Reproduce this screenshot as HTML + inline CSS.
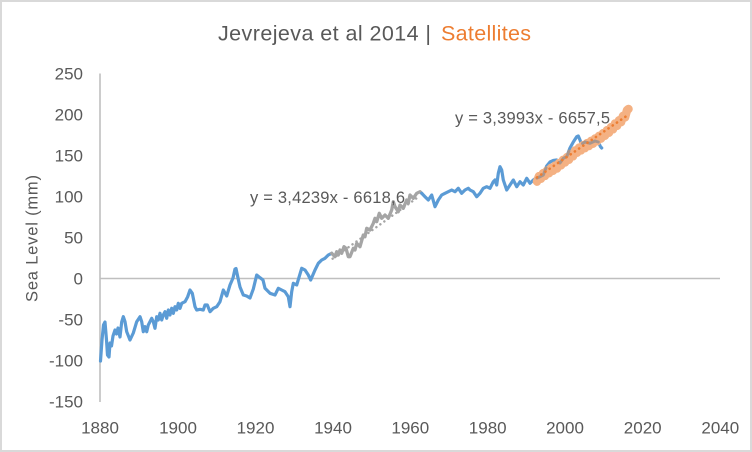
<!DOCTYPE html>
<html><head><meta charset="utf-8"><style>
html,body{margin:0;padding:0;background:#fff;}
svg{display:block;}
text{font-family:"Liberation Sans",Arial,sans-serif;fill:#595959;}
</style></head><body>
<svg width="752" height="452" viewBox="0 0 752 452" xmlns="http://www.w3.org/2000/svg">
<rect x="1" y="1" width="750" height="450" fill="#fff" stroke="#d9d9d9" stroke-width="2"/>
<!-- title -->
<text x="218" y="40.5" font-size="21.5" textLength="213" lengthAdjust="spacing">Jevrejeva et al 2014 |</text>
<text x="441" y="40.5" font-size="21.5" textLength="90" lengthAdjust="spacing" style="fill:#ed7d31">Satellites</text>
<!-- axis title -->
<text transform="translate(37.5,238.5) rotate(-90)" text-anchor="middle" font-size="16.5" textLength="127" lengthAdjust="spacing">Sea Level (mm)</text>
<!-- axes -->
<line x1="100" y1="73.5" x2="100" y2="402" stroke="#bfbfbf" stroke-width="1.6"/>
<line x1="100" y1="278.5" x2="720" y2="278.5" stroke="#bfbfbf" stroke-width="1.6"/>
<!-- y labels -->
<g font-size="17" text-anchor="end">
<text x="83" y="79.5">250</text>
<text x="83" y="120.5">200</text>
<text x="83" y="161.5">150</text>
<text x="83" y="202.5">100</text>
<text x="83" y="243.5">50</text>
<text x="83" y="284.5">0</text>
<text x="83" y="325.5">-50</text>
<text x="83" y="366.5">-100</text>
<text x="83" y="407.5">-150</text>
</g>
<!-- x labels -->
<g font-size="17" text-anchor="middle">
<text x="100" y="433.5">1880</text>
<text x="178" y="433.5">1900</text>
<text x="255.5" y="433.5">1920</text>
<text x="333" y="433.5">1940</text>
<text x="410.3" y="433.5">1960</text>
<text x="487.7" y="433.5">1980</text>
<text x="565" y="433.5">2000</text>
<text x="642.7" y="433.5">2020</text>
<text x="720.3" y="433.5">2040</text>
</g>
<!-- blue series part 1 -->
<path fill="none" stroke="#5b9bd5" stroke-width="3.2" stroke-linejoin="round" stroke-linecap="round" d="M100.5,361 L102,340 L103.5,325 L105,322 L106.5,340 L107.5,355 L109,357 L110,343 L111.5,346 L113,336 L115,330 L116.5,334 L118,328 L120,337 L121.7,322 L123.3,316.7 L125,321.7 L126.7,331.7 L130,340 L133.3,333 L136.7,321.7 L140,316.7 L141.7,321.7 L143.3,331.7 L145,326.7 L146.7,331.7 L148.3,325 L151.7,318.3 L153.3,321.7 L155,328.3 L156.7,316.7 L158.3,320 L160,313.3 L161.7,320 L163.3,315 L165,311.7 L166.7,318.3 L168.3,310 L170,315 L171.7,308.3 L173.3,313.3 L175,306.7 L176.7,310 L178.3,303.3 L180,308.3 L181.7,303.3 L185,301.7 L187.7,296.7 L190,290 L192.3,293.3 L195,306.7 L196.7,310 L200,309.3 L203.3,310 L205,305 L207.3,305 L210,311.7 L213.3,308.3 L216.7,306.7 L220,301.7 L223.3,290 L226.7,296 L230,285 L233,278 L235,269 L236,268.5 L238,278 L240,287 L243.3,295 L246.7,296 L250,298 L253.3,289 L256.7,275 L260,277.7 L263,280 L265,288.3 L270,293.3 L275,295 L278.3,288.3 L281.7,290 L285,291.7 L288.3,296.7 L290,306.7 L291.7,291.7 L293.3,283.3 L296.7,285 L301.7,268.3 L305,270 L308.3,275 L310.7,280 L315,270 L318.3,263.3 L321.7,260 L325,258.3 L328.3,255 L331.7,253.3"/>
<!-- gray series 1940-1962 -->
<path fill="none" stroke="#a5a5a5" stroke-width="3.3" stroke-linejoin="round" stroke-linecap="round" d="M331.7,253.3 L335,256.7 L336.7,251.7 L338.3,255 L340,250 L341.7,253.3 L344,246.7 L346,248.3 L348.3,256.7 L350,256.7 L353.3,248.3 L355,250 L356.7,243.3 L360,246.7 L363.3,235 L365,236.7 L366.7,228.3 L370,230 L373.3,223.3 L375,218.3 L376.7,221.7 L379.3,213.3 L381.7,218.3 L385,215 L388.3,218.3 L391.7,210 L393.3,201.7 L395,206.7 L398.3,211.7 L400,205 L403.3,208.3 L406.7,200 L408.3,203.3 L410,195 L413.3,198.3 L416.7,193.3 L420,191.7 L421.7,193.3"/>
<line x1="332.6" y1="258.7" x2="417.9" y2="197.3" stroke="#a5a5a5" stroke-width="2.4" stroke-dasharray="0.1 4.8" stroke-linecap="round"/>
<!-- blue series part 2 -->
<path fill="none" stroke="#5b9bd5" stroke-width="3.2" stroke-linejoin="round" stroke-linecap="round" d="M421.7,193.3 L425,196.7 L428.3,200 L431.7,195 L435,206.7 L438.3,200 L441.7,195 L445,193.3 L448.3,191.7 L451.7,190 L455,191.7 L458.3,188.3 L461.7,193.3 L465,190 L468.3,188.3 L470,190 L473.3,191.7 L476.7,196.7 L480,193.3 L483.3,188.3 L486.7,186.7 L490,188.3 L493.3,181.7 L495,180 L496.7,185 L498.3,173.3 L500,166.7 L501.7,170 L503.3,180 L506.7,190 L510,185 L513.3,180 L516.7,186.7 L520,181.7 L523.3,185 L526.7,178.3 L530,183.3 L533.3,180 L536,178 L540,176.7 L543.3,175 L546.7,166 L550,162 L553.3,160.5 L556.7,160 L560,163 L563.3,158.3 L566.7,156.7 L570,148 L573.3,142 L576.7,136.7 L578.3,136 L580,140 L581.7,145 L585,142 L590,143.3 L595,141 L598.3,142 L600.5,146.7 L601.7,148"/>
<!-- satellites band -->
<path fill="none" stroke="#f4b183" stroke-width="8.5" stroke-linejoin="round" stroke-linecap="round" d="M537,181.6 L539,176.1 L541,178.7 L543,173.2 L545,175.9 L547,170.5 L549,173.2 L551,167.9 L553,170.8 L555,165.7 L557,168.5 L559,163 L561,165.4 L563,159.9 L565,162.5 L567,157.1 L569,159.7 L571,154.1 L573,156.3 L575,150.5 L577,152.8 L579,147.6 L581,150.4 L583,145.2 L585,148.1 L587,143.1 L589,146 L591,140.9 L593,143.7 L595,138.5 L597,141.3 L599,135.9 L601,138.6 L603,133.2 L605,135.7 L607,130.2 L609,132.7 L611,127.1 L613,129.3 L615,123.5 L617,125.9 L619,120.3 L621,122.3 L623,115.9 L625,117.5 L627,110.2 L628.5,109"/>
<!-- blue-under-band (brownish) segments -->
<g fill="none" stroke="#a8968d" stroke-width="3" stroke-linejoin="round" stroke-linecap="round">
<path d="M537,178 L540,176.7 L543.3,175 L546,168"/>
<path d="M559,162.5 L560,163 L563.3,158.3 L566.7,156.7 L569,151"/>
<path d="M582.5,143.5 L585,142 L590,143.3 L595,141 L598.3,142"/>
</g>
<!-- satellites trend -->
<line x1="537" y1="177.4" x2="628" y2="115" stroke="#ed7d31" stroke-width="2.6" stroke-dasharray="0.1 5" stroke-linecap="round"/>
<!-- equations -->
<text x="250" y="203" font-size="16.5" textLength="155" lengthAdjust="spacing">y = 3,4239x - 6618,6</text>
<text x="455" y="123.3" font-size="16.5" textLength="155" lengthAdjust="spacing">y = 3,3993x - 6657,5</text>
</svg>
</body></html>
